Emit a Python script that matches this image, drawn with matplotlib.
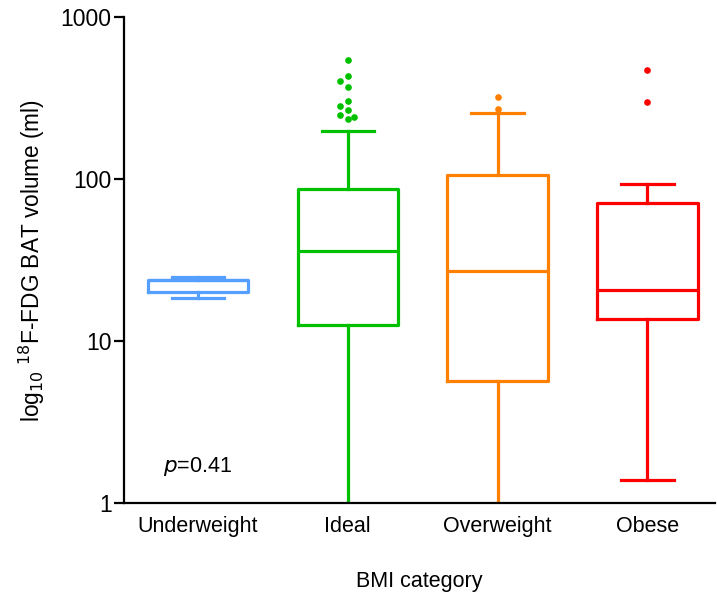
import matplotlib.pyplot as plt
import numpy as np

plt.rcParams['font.family'] = ['Liberation Sans', 'DejaVu Sans']

categories = ['Underweight', 'Ideal', 'Overweight', 'Obese']
colors = ['#55a0ff', '#00c000', '#ff8000', '#ff0000']

# box statistics (ml)
whis_low = [18.3, 0.8, 0.8, 1.38]
q1 = [20.0, 12.6, 5.7, 13.7]
median = [23.9, 36.2, 27.2, 20.7]
q3 = [23.9, 86.8, 106, 71.5]
whis_high = [24.8, 197, 254, 93.5]

# outliers above the upper whisker
outliers = [
    [],
    [545, 432, 403, 370, 303, 284, 266, 249, 235, 240],
    [320, 270],
    [469, 298],
]
# small horizontal spread of overlapping outlier dots
outlier_shift = [
    [],
    [0, 0, -0.05, 0, 0, -0.05, 0, -0.05, 0, 0.045],
    [0, 0],
    [0, 0],
]

fig = plt.figure(figsize=(7.17, 5.95), dpi=100)
ax = fig.add_axes([0.173, 0.1546, 0.824, 0.8168])

stats = []
for i in range(len(categories)):
    stats.append({'whislo': whis_low[i], 'q1': q1[i], 'med': median[i],
                  'q3': q3[i], 'whishi': whis_high[i], 'fliers': []})

pos = np.arange(len(categories))
bp = ax.bxp(stats, positions=pos, widths=0.67, capwidths=0.35,
            showfliers=False, patch_artist=False)

lw = 2.3
for i, c in enumerate(colors):
    bp['boxes'][i].set(color=c, linewidth=lw)
    bp['medians'][i].set(color=c, linewidth=lw)
    for k in (2 * i, 2 * i + 1):
        bp['whiskers'][k].set(color=c, linewidth=lw)
        bp['caps'][k].set(color=c, linewidth=lw)
    if outliers[i]:
        xs = pos[i] + np.array(outlier_shift[i])
        ax.plot(xs, outliers[i], 'o', color=c, markersize=4.8,
                markeredgewidth=0)

ax.set_yscale('log')
ax.set_ylim(1, 1000)
ax.set_xlim(-0.493, 3.45)
ax.set_yticks([1, 10, 100, 1000])
ax.set_yticklabels(['1', '10', '100', '1000'])
ax.yaxis.set_minor_locator(plt.NullLocator())
ax.set_xticks(pos)
ax.set_xticklabels(categories)

ax.spines['top'].set_visible(False)
ax.spines['right'].set_visible(False)
ax.spines['left'].set_linewidth(1.6)
ax.spines['bottom'].set_linewidth(1.6)
ax.tick_params(axis='y', length=7, width=1.6, pad=2, labelsize=16.5)
ax.tick_params(axis='x', length=0, pad=9, labelsize=15.5)

ax.set_ylabel('log$_{10}$ $^{18}$F-FDG BAT volume (ml)', fontsize=16.3,
              labelpad=10)
ax.set_xlabel('BMI category', fontsize=15.5, labelpad=25)

ax.text(0, 1.67, r'$\it{p}$=0.41', fontsize=15.5, ha='center', va='center')

fig.savefig('out.png', dpi=100)
